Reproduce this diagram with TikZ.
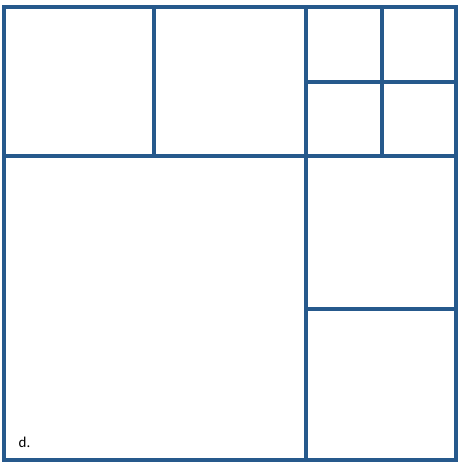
\documentclass[tikz,border=0pt]{standalone}
\usepackage{fontspec}
\newfontfamily\carlito{Carlito}
\definecolor{gridblue}{RGB}{38,89,140}
\begin{document}
\begin{tikzpicture}[x=1pt,y=-1pt,
  gridline/.style={draw=gridblue,line width=4pt,line cap=rect},
  lbl/.style={font=\carlito\fontsize{15}{17}\selectfont,inner sep=0pt,anchor=base west}]
\useasboundingbox (0,0) rectangle (463,465);
\coordinate (tl) at (4,7);
\coordinate (br) at (456,460);
\draw[gridline] (tl) rectangle (br);
\coordinate (h1a) at (4,156.5);
\coordinate (h1b) at (456,156.5);
\draw[gridline] (h1a) -- (h1b);
\coordinate (v1a) at (154,7);
\coordinate (v1b) at (154,156.5);
\draw[gridline] (v1a) -- (v1b);
\coordinate (v2a) at (306,7);
\coordinate (v2b) at (306,460);
\draw[gridline] (v2a) -- (v2b);
\coordinate (v3a) at (382,7);
\coordinate (v3b) at (382,156.5);
\draw[gridline] (v3a) -- (v3b);
\coordinate (h2a) at (306,82);
\coordinate (h2b) at (456,82);
\draw[gridline] (h2a) -- (h2b);
\coordinate (h3a) at (306,309);
\coordinate (h3b) at (456,309);
\draw[gridline] (h3a) -- (h3b);
\node[lbl] (d) at (18.5,447) {d.};
\end{tikzpicture}
\end{document}
